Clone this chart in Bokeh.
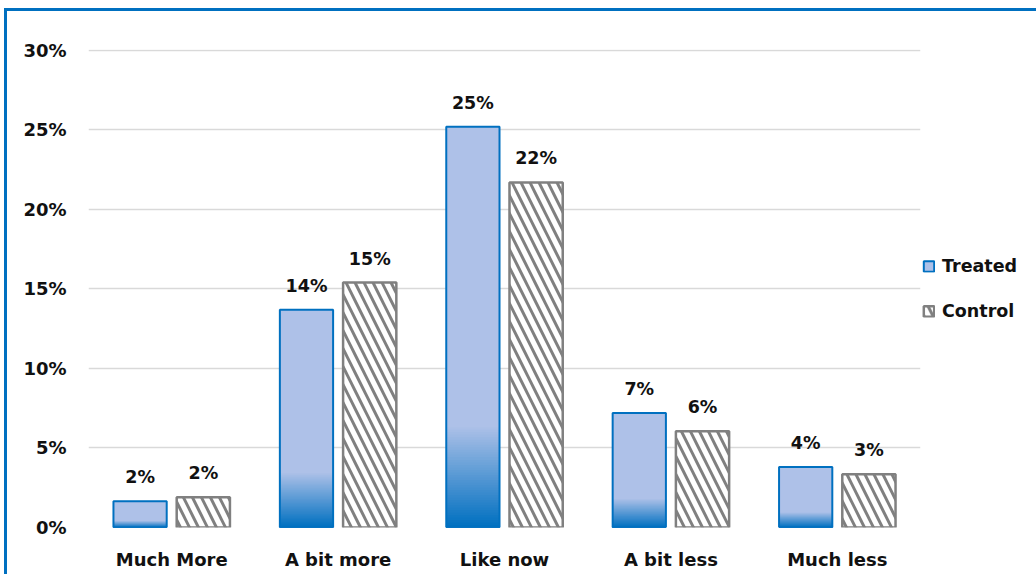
from bokeh.plotting import figure
from bokeh.models import (ColumnDataSource, FactorRange, Range1d, Legend, LegendItem,
                          PrintfTickFormatter, FixedTicker)
from bokeh.transform import dodge
from bokeh.core.properties import value
from bokeh.embed import file_html
from bokeh.resources import INLINE

# Survey answers: share of respondents per answer, in percent
categories = ["Much More", "A bit more", "Like now", "A bit less", "Much less"]
treated = [1.65, 13.7, 25.2, 7.2, 3.8]
control = [1.9, 15.4, 21.7, 6.05, 3.35]
y_ticks = [0, 5, 10, 15, 20, 25, 30]

FONT = "DejaVu Sans"
BLUE = "#0070C0"
LIGHT = (174, 193, 232)
DARK = (0, 112, 192)
GRAY = "#808080"
TEXT = "#111111"
OFF = 0.19
W = 0.32

p = figure(x_range=FactorRange(*categories, range_padding=0),
           y_range=Range1d(0, 30.06), frame_width=832, frame_height=478,
           output_backend="svg", toolbar_location=None,
           min_border_left=81, min_border_right=115,
           min_border_top=38, min_border_bottom=47)
p.styles = {"margin-left": "4px", "margin-top": "8px",
            "border-left": f"3px solid {BLUE}", "border-top": f"3px solid {BLUE}"}
p.outline_line_color = None
p.background_fill_color = "white"
p.border_fill_color = "white"

src = ColumnDataSource(dict(
    cat=categories, treated=treated, control=control,
    t_lab=[f"{round(v)}%" for v in treated],
    c_lab=[f"{round(v)}%" for v in control],
))

x_t = dodge("cat", -OFF, range=p.x_range)
x_c = dodge("cat", OFF, range=p.x_range)

# Treated bars: flat light fill, then a gradient over the lower quarter
t_main = p.vbar(x=x_t, top="treated", width=W, source=src,
                fill_color="#AEC1E8", line_color=None)
N = 40
for k in range(N):
    f = (k + 1) / N  # 0 -> light, 1 -> dark
    col = tuple(int(round(DARK[i] * f + LIGHT[i] * (1 - f))) for i in range(3))
    slc = ColumnDataSource(dict(
        cat=categories,
        top=[v * 0.25 * (1 - k / N) for v in treated],
    ))
    p.vbar(x=x_t, bottom=0, top="top", width=W, source=slc,
           fill_color="#%02x%02x%02x" % col, line_color=None)
t_edge = p.vbar(x=x_t, top="treated", width=W, source=src,
                fill_color=None, line_color=BLUE, line_width=2)

# Control bars: hatched
c_main = p.vbar(x=x_c, top="control", width=W, source=src,
                fill_color="white", line_color=GRAY, line_width=2.5,
                hatch_pattern="\\", hatch_color=GRAY, hatch_scale=18, hatch_weight=3)

# Value labels above bars
for key, lab, xx in (("treated", "t_lab", x_t), ("control", "c_lab", x_c)):
    p.text(x=xx, y=key, text=lab, source=src,
           text_align="center", text_baseline="alphabetic", y_offset=-24,
           text_font=value(FONT), text_font_style="bold",
           text_font_size="17.5px", text_color=TEXT)

# Axes and grid
p.yaxis.ticker = FixedTicker(ticks=y_ticks)
p.yaxis.formatter = PrintfTickFormatter(format="%d%%")
for ax in (p.xaxis[0], p.yaxis[0]):
    ax.axis_line_color = None
    ax.major_tick_line_color = None
    ax.minor_tick_line_color = None
    ax.major_tick_out = 0
    ax.major_tick_in = 0
    ax.major_label_text_font = FONT
    ax.major_label_text_font_style = "bold"
    ax.major_label_text_font_size = "18px"
    ax.major_label_text_color = TEXT
p.yaxis.major_label_standoff = 22
p.xaxis.major_label_standoff = 21
p.xgrid.grid_line_color = None
p.ygrid.grid_line_color = "#D9D9D9"
p.ygrid.grid_line_width = 1.5

legend = Legend(items=[LegendItem(label="Treated", renderers=[t_main, t_edge]),
                       LegendItem(label="Control", renderers=[c_main])],
                location="center_left", orientation="vertical",
                glyph_width=13, glyph_height=13, label_height=20,
                label_standoff=7, spacing=25, padding=0, margin=2,
                border_line_color=None, background_fill_alpha=0,
                label_text_font=FONT, label_text_font_style="bold",
                label_text_font_size="17.5px", label_text_color=TEXT)
p.add_layout(legend, "right")

open("out.html", "w").write(file_html(p, INLINE))
